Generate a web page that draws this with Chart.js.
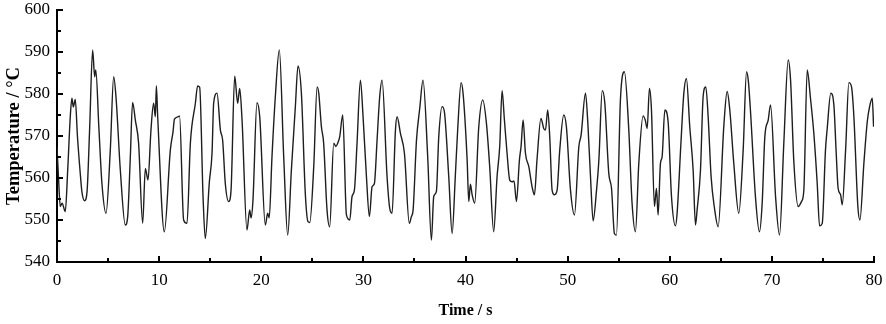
<!DOCTYPE html>
<html>
<head>
<meta charset="utf-8">
<script src="https://cdn.jsdelivr.net/npm/chart.js@4"></script>
<style>
html,body{margin:0;padding:0;background:#fff;}
#wrap{width:886px;height:324px;}
</style>
</head>
<body>
<div id="wrap"><canvas id="c" width="886" height="324"></canvas></div>
<script>
const xTitle = 'Time / s';
const yTitle = 'Temperature / °C';
const xTicks = [0, 10, 20, 30, 40, 50, 60, 70, 80];
const yTicks = [540, 550, 560, 570, 580, 590, 600];
const times = [
0.0,0.15,0.32,0.5,0.81,1.05,1.3,1.46,1.6,1.79,2.0,2.28,2.44,2.7,2.94,3.2,3.49,3.69,3.8,4.1,4.4,4.8,
5.22,5.55,5.78,6.2,6.69,6.92,7.18,7.4,7.67,7.99,8.39,8.65,8.91,9.2,9.46,9.63,9.73,9.86,10.51,
11.1,11.36,11.5,11.9,12.0,12.4,12.73,13.06,13.55,13.77,13.97,14.3,14.52,14.92,15.18,15.34,15.67,
16.0,16.22,16.48,16.81,17.04,17.4,17.69,17.89,18.12,18.6,18.87,19.0,19.19,19.58,19.85,20.4,20.63,
20.78,21.05,21.38,21.77,22.2,22.59,22.95,23.34,23.6,23.93,24.32,24.58,24.75,25.14,25.47,25.63,
25.89,26.11,26.44,26.7,27.1,27.3,27.49,27.68,27.98,28.34,28.67,28.89,29.12,29.38,29.71,29.97,
30.3,30.59,30.85,31.08,31.34,31.6,31.83,32.32,32.58,32.81,33.14,33.3,33.63,34.02,34.5,34.7,34.87,
35.2,35.52,35.84,36.3,36.66,36.89,37.15,37.38,37.71,37.93,38.36,38.69,39.0,39.24,39.57,39.76,
40.16,40.32,40.48,40.65,40.9,41.3,41.69,42.05,42.37,42.76,43.09,43.35,43.58,43.81,44.07,44.33,
44.56,44.75,44.99,45.28,45.44,45.64,45.87,46.2,46.52,46.75,47.0,47.39,47.66,47.83,48.05,48.25,
48.48,48.71,48.97,49.23,49.62,49.88,50.28,50.67,51.1,51.32,51.75,51.98,52.24,52.5,52.83,53.06,
53.39,53.64,54.03,54.3,54.58,54.78,55.17,55.56,55.99,56.3,56.64,56.97,57.39,57.6,57.79,58.01,
58.21,58.5,58.7,58.86,59.09,59.25,59.52,59.84,60.17,60.56,60.72,61.11,61.38,61.63,61.96,62.29,
62.52,62.68,63.01,63.27,63.53,63.76,64.05,64.38,64.74,65.3,65.62,65.88,66.27,66.76,67.19,67.52,
67.7,67.9,68.39,68.78,69.05,69.31,69.64,69.87,70.36,70.75,71.17,71.6,71.83,72.15,72.58,72.9,
73.13,73.46,73.78,74.11,74.44,74.67,74.93,75.25,75.42,75.77,76.07,76.3,76.49,76.73,76.89,77.22,
77.54,77.8,78.03,78.42,78.62,79.01,79.34,79.57,79.83,79.96
];
const temps = [
567.5,560,553.2,554,552,562,574.6,579,576.9,578.7,570,561,556.7,554.6,556.7,572,590.5,584.1,585.7,572,558.7,551.6,
566.7,584.1,579.2,561.9,548.8,550.8,565,578,573.8,568.3,549.2,562.3,559.5,571.4,577.8,574.6,581.9,574.6,547.2,
566.7,571,574,574.6,574.8,550,549.2,568.3,577.8,581.9,581.6,555.6,545.6,559.1,565.9,577.8,580.2,
571.4,569,558.7,554.4,557,584.3,577.8,581.3,573.8,547.6,552.4,550.5,554.8,577.9,574.6,548.8,551.6,
550.5,565,579.4,590.5,565,546.4,561.9,577,586.7,580.2,556,549.6,549.4,562.7,581.7,580.2,
572.2,568.3,552.4,548.4,568.3,567.5,568.3,569.8,575,551.2,550,555.6,557.1,568.3,583.3,574.6,
560.3,550.8,557.9,558.7,569,579.4,583.3,560.3,552.8,551.6,571.4,574.6,570.6,565.9,549.2,550.8,552.4,
569,576.6,583.3,565,545.2,555.6,556.8,569.8,577,575.8,560.3,546.8,560.3,571.8,582.7,580.2,
564.3,554.4,558.5,556,554,572.2,578.6,573,562.7,547.2,560.3,567.5,580.8,573.8,565.9,559.5,
559.1,559.3,554.4,564.3,567.5,573.8,565.9,562.7,557.9,556,564.3,574.2,571.8,571.4,576.2,569.8,
557.1,556,557.1,566.7,575,572.2,557.1,551.2,567.5,570.2,580.2,573,560.3,549.8,557.1,564.3,
580.8,577.9,561.1,557.5,546.8,546.4,578.6,585.3,571.4,554.4,547.2,563.5,574.8,573.8,571.8,581.3,
576.2,553.2,557.5,551.2,563.5,565,576.2,573.4,555.6,548.6,551.6,569,580.2,583.7,572.2,561.9,
548.8,552.4,561.9,579.4,581.7,574.6,560.3,552.8,548.4,572.6,580.6,576.2,563.5,551.6,566.7,585.3,
583,576.2,555.6,547.2,554,569.8,573.8,577.4,555.6,546.4,568.3,588.1,583.3,563.9,553.2,554.4,
557.1,585.7,579,570.6,558.7,548.6,549.2,566.7,571.8,580.2,577.4,565.9,557.5,556,553.6,566.7,
582.7,581.7,574.6,553.2,550,563.5,573.4,577,579,572.2
];

const points = times.map((t, i) => ({x: t, y: temps[i]}));
const serif = "'Liberation Serif', 'Times New Roman', serif";

const innerTicks = {
  id: 'innerTicks',
  afterDraw(chart) {
    const ctx = chart.ctx, xs = chart.scales.x, ys = chart.scales.y;
    const a = chart.chartArea;
    ctx.save();
    ctx.strokeStyle = '#000';
    ctx.lineWidth = 2;
    for (let v = xTicks[0]; v <= xTicks[xTicks.length - 1]; v += 5) {
      const px = Math.round(xs.getPixelForValue(v));
      const len = (v % 10 === 0) ? 6 : 4;
      ctx.beginPath(); ctx.moveTo(px, a.bottom); ctx.lineTo(px, a.bottom - len); ctx.stroke();
    }
    for (let v = yTicks[0]; v <= yTicks[yTicks.length - 1]; v += 5) {
      const py = Math.round(ys.getPixelForValue(v));
      const len = (v % 10 === 0) ? 6 : 4;
      ctx.beginPath(); ctx.moveTo(a.left, py); ctx.lineTo(a.left + len, py); ctx.stroke();
    }
    ctx.restore();
  }
};

new Chart(document.getElementById('c'), {
  type: 'line',
  data: {
    datasets: [{
      data: points,
      borderColor: '#1e1e1e',
      borderWidth: 1.4,
      pointRadius: 0,
      fill: false,
      cubicInterpolationMode: 'monotone'
    }]
  },
  options: {
    responsive: false,
    animation: false,
    layout: {padding: {left: 0, right: 12, top: 10, bottom: 0}},
    plugins: {legend: {display: false}, tooltip: {enabled: false}},
    scales: {
      x: {
        type: 'linear', min: 0, max: 80,
        afterBuildTicks(s) { s.ticks = xTicks.map(v => ({value: v})); },
        afterFit(s) { s.height = 62; s.paddingLeft = 0; s.paddingRight = 0; },
        grid: {drawOnChartArea: false, drawTicks: false},
        border: {display: true, color: '#000', width: 2},
        ticks: {color: '#000', padding: 8, maxRotation: 0, font: {family: serif, size: 17}},
        title: {display: true, text: xTitle, color: '#000', padding: {top: 0, bottom: 4},
                font: {family: serif, size: 16, weight: 'bold'}}
      },
      y: {
        type: 'linear', min: 540, max: 600,
        afterBuildTicks(s) { s.ticks = yTicks.map(v => ({value: v})); },
        afterFit(s) { s.width = 57; s.paddingTop = 0; s.paddingBottom = 0; },
        grid: {drawOnChartArea: false, drawTicks: false},
        border: {display: true, color: '#000', width: 2},
        ticks: {color: '#000', padding: 7, font: {family: serif, size: 17}},
        title: {display: true, text: yTitle, color: '#000', padding: {top: 3, bottom: 0},
                font: {family: serif, size: 18.5, weight: 'bold'}}
      }
    }
  },
  plugins: [innerTicks]
});
</script>
</body>
</html>
